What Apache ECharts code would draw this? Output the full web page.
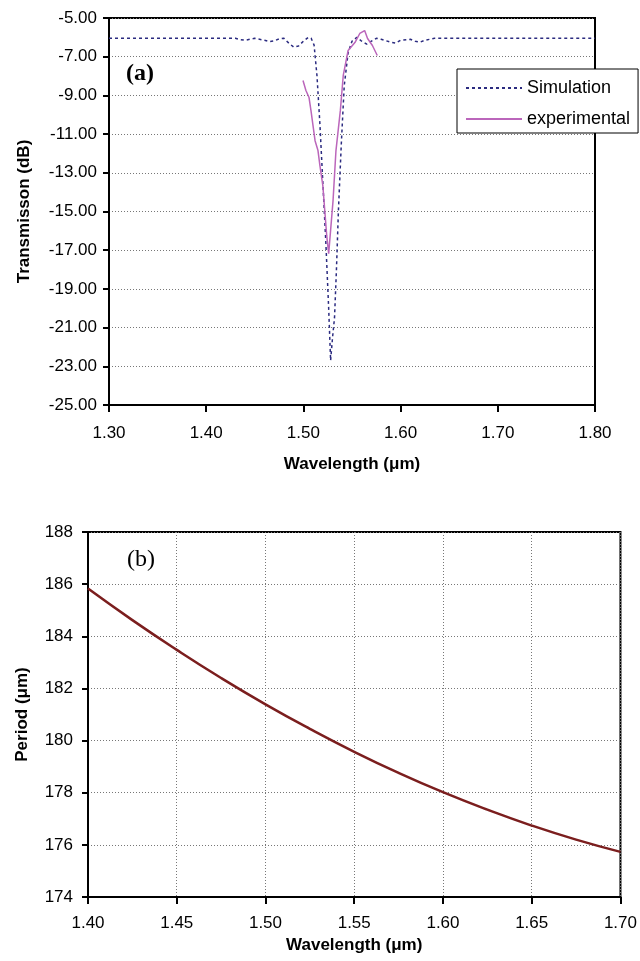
<!DOCTYPE html>
<html>
<head>
<meta charset="utf-8">
<script src="https://cdn.jsdelivr.net/npm/echarts@6/dist/echarts.min.js"></script>
<style>
  html, body { margin: 0; padding: 0; background: #fff; }
  #chart { width: 640px; height: 961px; }
</style>
</head>
<body>
<div id="chart"></div>
<script>
// (a) transmission vs wavelength, [wavelength um, dB]
const simulation = [
  [1.30, -6.05], [1.35, -6.05], [1.40, -6.05], [1.43, -6.05], [1.435, -6.12], [1.44, -6.15],
  [1.445, -6.1], [1.45, -6.05], [1.46, -6.15], [1.465, -6.22], [1.47, -6.18], [1.475, -6.08],
  [1.48, -6.05], [1.485, -6.3], [1.49, -6.5], [1.495, -6.45], [1.50, -6.2], [1.505, -6.0],
  [1.508, -6.05], [1.511, -6.4], [1.514, -8.0], [1.517, -10.5], [1.52, -13.5], [1.523, -16.5],
  [1.526, -20.0], [1.528, -22.7], [1.530, -21.5], [1.532, -20.5], [1.534, -18.0], [1.536, -15.0],
  [1.539, -11.5], [1.542, -8.5], [1.546, -6.8], [1.55, -6.2], [1.555, -6.0], [1.56, -6.2],
  [1.565, -6.35], [1.57, -6.2], [1.575, -6.05], [1.58, -6.1], [1.59, -6.25], [1.595, -6.3],
  [1.60, -6.15], [1.61, -6.1], [1.615, -6.2], [1.62, -6.25], [1.625, -6.15], [1.635, -6.05],
  [1.70, -6.05], [1.80, -6.05]
];
const experimental = [
  [1.4996, -8.23], [1.5026, -8.75], [1.5058, -9.11], [1.5078, -9.79], [1.5099, -10.56],
  [1.512, -11.34], [1.515, -11.85], [1.517, -12.63], [1.520, -13.66], [1.522, -14.96],
  [1.524, -16.25], [1.526, -17.18], [1.5305, -14.44], [1.5335, -11.85], [1.538, -9.79],
  [1.541, -7.97], [1.546, -6.68], [1.553, -6.27], [1.558, -5.80], [1.563, -5.65],
  [1.566, -6.06], [1.571, -6.42], [1.576, -6.94]
];
// (b) grating period vs wavelength
const periodWavelength = [1.40, 1.425, 1.45, 1.475, 1.50, 1.525, 1.55, 1.575, 1.60, 1.625, 1.65, 1.675, 1.70];
const periodValues = [185.83, 184.62, 183.48, 182.40, 181.39, 180.45, 179.57, 178.76, 178.02, 177.35, 176.74, 176.20, 175.73];

const font = 'Arial, "Liberation Sans", sans-serif';
const dotted = { type: [1, 2], color: '#777', width: 1 };

const chart = echarts.init(document.getElementById('chart'));

const xAxisBase = {
  type: 'value',
  axisLine: { show: true, lineStyle: { color: '#000', width: 2 } },
  axisTick: { show: true, inside: false, length: 7, lineStyle: { color: '#000', width: 2 } },
  axisLabel: { color: '#000', fontSize: 17, fontFamily: font, formatter: v => v.toFixed(2) },
  nameLocation: 'middle',
  nameTextStyle: { color: '#000', fontSize: 17, fontWeight: 'bold', fontFamily: font }
};
const yAxisBase = {
  type: 'value',
  axisLine: { show: true, lineStyle: { color: '#000', width: 2 } },
  axisTick: { show: true, inside: false, length: 6, lineStyle: { color: '#000', width: 2 } },
  nameLocation: 'middle',
  nameRotate: 90,
  nameTextStyle: { color: '#000', fontSize: 17, fontWeight: 'bold', fontFamily: font }
};

chart.setOption({
  animation: false,
  backgroundColor: '#fff',
  grid: [
    { left: 109, top: 18, width: 486, height: 387, show: true, borderColor: '#000', borderWidth: 2, backgroundColor: 'transparent' },
    { left: 88, top: 532, width: 535, height: 365, show: true, borderColor: '#000', borderWidth: 2, backgroundColor: 'transparent' }
  ],
  xAxis: [
    Object.assign({}, xAxisBase, {
      gridIndex: 0, min: 1.3, max: 1.8, interval: 0.1,
      splitLine: { show: false },
      name: 'Wavelength (\u03bcm)', nameGap: 51,
      axisLabel: Object.assign({}, xAxisBase.axisLabel, { margin: 20 })
    }),
    Object.assign({}, xAxisBase, {
      gridIndex: 1, min: 1.4, max: 1.7, interval: 0.05,
      splitLine: { show: true, lineStyle: dotted },
      name: 'Wavelength (\u03bcm)', nameGap: 40,
      axisLabel: Object.assign({}, xAxisBase.axisLabel, { margin: 18 })
    })
  ],
  yAxis: [
    Object.assign({}, yAxisBase, {
      gridIndex: 0, min: -25, max: -5, interval: 2,
      splitLine: { show: true, lineStyle: dotted },
      name: 'Transmisson (dB)', nameGap: 76,
      axisLabel: { color: '#000', fontSize: 17, fontFamily: font, margin: 12, formatter: v => v.toFixed(2) }
    }),
    Object.assign({}, yAxisBase, {
      gridIndex: 1, min: 174, max: 188, interval: 2,
      splitLine: { show: true, lineStyle: dotted },
      name: 'Period (\u03bcm)', nameGap: 57,
      axisLabel: { color: '#000', fontSize: 17, fontFamily: font, margin: 15 }
    })
  ],
  legend: {
    left: 457, top: 69,
    orient: 'vertical',
    data: ['Simulation', 'experimental'],
    backgroundColor: '#fff',
    borderColor: '#000',
    borderWidth: 1,
    borderRadius: 0,
    padding: [9, 8, 4, 8],
    itemWidth: 56,
    itemHeight: 14,
    itemGap: 11,
    itemStyle: { opacity: 0 },
    textStyle: { color: '#000', fontSize: 18, fontFamily: font, lineHeight: 20 },
    selectedMode: false
  },
  graphic: [
    { type: 'text', left: 126, top: 62, style: { text: '(a)', fontSize: 24, fontWeight: 'bold', fontFamily: '"Liberation Serif", "DejaVu Serif", serif', fill: '#000' } },
    { type: 'text', left: 127, top: 548, style: { text: '(b)', fontSize: 24, fontFamily: '"Liberation Serif", "DejaVu Serif", serif', fill: '#000' } }
  ],
  series: [
    {
      name: 'Simulation', type: 'line', xAxisIndex: 0, yAxisIndex: 0,
      data: simulation, symbol: 'none', smooth: false,
      lineStyle: { color: '#2b2b80', width: 1.5, type: [3, 3] },
      itemStyle: { color: '#2b2b80' }
    },
    {
      name: 'experimental', type: 'line', xAxisIndex: 0, yAxisIndex: 0,
      data: experimental, symbol: 'none',
      lineStyle: { color: '#bb66bb', width: 1.5 },
      itemStyle: { color: '#bb66bb' }
    },
    {
      name: 'Period', type: 'line', xAxisIndex: 1, yAxisIndex: 1,
      data: periodWavelength.map((w, i) => [w, periodValues[i]]),
      symbol: 'none', smooth: true,
      lineStyle: { color: '#7b1e1e', width: 2.5 },
      itemStyle: { color: '#7b1e1e' }
    }
  ]
});
</script>
</body>
</html>
